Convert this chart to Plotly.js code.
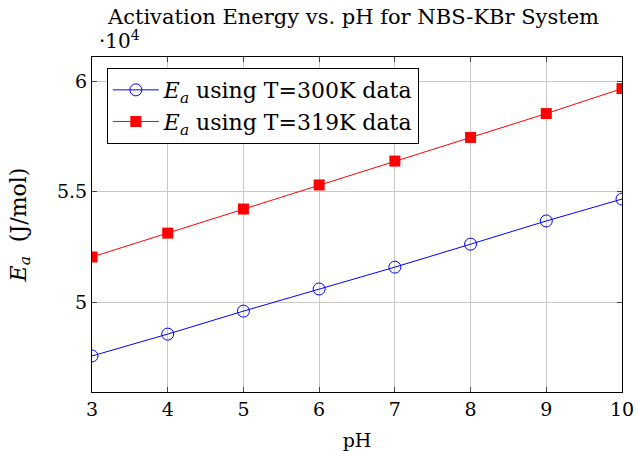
<!DOCTYPE html>
<html>
<head>
<meta charset="utf-8">
<script src="https://cdn.plot.ly/plotly-3.0.1.min.js"></script>
<style>html,body{margin:0;padding:0;background:#fff;}#chart{width:637px;height:451px;}</style>
</head>
<body>
<div id="chart"></div>
<script>
const pH = [3, 4, 5, 6, 7, 8, 9, 10];
const ea300 = [47560, 48550, 49590, 50590, 51580, 52620, 53670, 54660];
const ea319 = [52040, 53120, 54210, 55300, 56380, 57450, 58530, 59660];
const yTickVals = [50000, 55000, 60000];
const yTickText = ['5', '5.5', '6'];
const FONT = '"DejaVu Serif", "Liberation Serif", serif';

const traces = [
  {x: pH, y: ea300, mode: 'lines+markers', name: '<i>E<sub>a</sub></i> using T=300K data',
   line: {color: '#0000ff', width: 1},
   marker: {symbol: 'circle-open', size: 12, color: '#0000ff', line: {width: 1}}},
  {x: pH, y: ea319, mode: 'lines+markers', name: '<i>E<sub>a</sub></i> using T=319K data',
   line: {color: '#ff0000', width: 1},
   marker: {symbol: 'square', size: 11, color: '#ff0000'}}
];

const layout = {
  width: 637, height: 451,
  margin: {l: 92, r: 15, t: 57, b: 59},
  paper_bgcolor: '#fff', plot_bgcolor: '#fff',
  font: {family: FONT, size: 18, color: '#000'},
  title: {text: 'Activation Energy vs. pH for NBS-KBr System', x: 0.555, xanchor: 'center', y: 0.98, yanchor: 'top', font: {size: 21}},
  showlegend: true,
  legend: {x: 0.028, y: 0.967, xanchor: 'left', yanchor: 'top', bordercolor: '#000', borderwidth: 1, bgcolor: '#fff', font: {size: 22}, tracegroupgap: 0, itemwidth: 46},
  xaxis: {range: [3, 10], tickvals: pH, ticks: 'inside', ticklen: 5, tickcolor: '#444', mirror: 'ticks',
          showline: true, linecolor: '#000', linewidth: 1, showgrid: true, gridcolor: '#c8c8c8', zeroline: false,
          title: {text: 'pH', standoff: 14, font: {size: 19}}, tickfont: {size: 19}},
  yaxis: {range: [45930, 61090], tickvals: yTickVals, ticktext: yTickText, ticks: 'inside', ticklen: 5, tickcolor: '#444', mirror: 'ticks',
          showline: true, linecolor: '#000', linewidth: 1, showgrid: true, gridcolor: '#c8c8c8', zeroline: false,
          title: {text: '<i>E<sub>a</sub></i>  (J/mol)', standoff: 24, font: {size: 22}}, tickfont: {size: 19}},
  annotations: [{xref: 'paper', yref: 'paper', x: 0.01, y: 1.005, xanchor: 'left', yanchor: 'bottom', showarrow: false,
                 text: '·10<sup>4</sup>', font: {size: 20}}]
};

Plotly.newPlot('chart', traces, layout, {displayModeBar: false, staticPlot: true});
</script>
</body>
</html>
